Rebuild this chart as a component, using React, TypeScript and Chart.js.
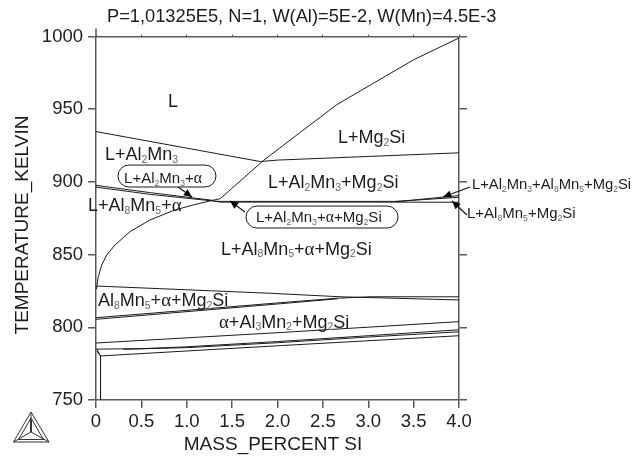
import React, { useEffect, useRef } from "react";
import { Chart, registerables } from "chart.js";

Chart.register(...registerables);

type P = [number, number];

const xTicks = [0, 0.5, 1, 1.5, 2, 2.5, 3, 3.5, 4];
const yTicks = [750, 800, 850, 900, 950, 1000];

const liquidusAl2Mn3: P[] = [[0, 934.6], [1.81, 914], [2.0, 915], [3.0, 917.5], [4.0, 920]];
const liquidusMg2Si: P[] = [[0, 826.5], [0.008, 827.9], [0.025, 834.8], [0.063, 842.8], [0.118, 849.7], [0.209, 856.6], [0.375, 865.8], [0.595, 873.8], [0.848, 880.2], [1.036, 883.6], [1.256, 886.9], [1.37, 888.5], [1.85, 915], [2.65, 953], [3.5, 984], [4.0, 999]];
const alphaUpper: P[] = [[0, 897.6], [0.6, 892.6], [1.3, 887.2]];
const alphaLower: P[] = [[0, 896.4], [0.6, 891.4], [1.35, 886.5]];
const eutecticA: P[] = [[1.3, 886.6], [3.35, 886.6], [4.0, 890.6]];
const eutecticB: P[] = [[1.35, 886.1], [3.0, 886.1], [4.0, 886.0]];
const eutecticC: P[] = [[3.3, 886.6], [4.0, 889.4]];
const solvusTop: P[] = [[0, 828.4], [1.92, 823.4], [2.69, 821], [4.0, 818.8]];
const solvusRiseA: P[] = [[0, 806.6], [2.03, 816.9], [2.66, 820], [3.02, 821], [4.0, 821]];
const solvusRiseB: P[] = [[0, 805.5], [2.03, 816.2], [2.66, 819.6]];
const band789: P[] = [[0, 789.2], [2.03, 796.4], [4.0, 803.9]];
const band785A: P[] = [[0, 785], [0.5, 785.3], [1.0, 786.6], [2.0, 790.2], [3.0, 794.2], [4.0, 798.3]];
const band785B: P[] = [[0.3, 784.9], [1.0, 786], [2.0, 789.4], [3.0, 793.3], [4.0, 796.9]];
const band780: P[] = [[0.05, 780.3], [2.03, 787.4], [4.0, 794.2]];
const cornerA: P[] = [[0.01, 784.8], [0.05, 780.3]];
const cornerB: P[] = [[0.01, 783.6], [0.05, 780.3]];
const verticalA: P[] = [[0.05, 780.3], [0.05, 750]];

const boundaries = [liquidusAl2Mn3, liquidusMg2Si, alphaUpper, alphaLower, eutecticA, eutecticB, eutecticC, solvusTop, solvusRiseA, solvusRiseB, band789, band785A, band785B, band780, cornerA, cornerB, verticalA];

// [text, x, T, font px] : "_n" marks a subscript
const regionLabels: [string, number, number, number][] = [
  ["L", 0.793, 956.3, 18],
  ["L+Mg_2Si", 2.667, 930.9, 18],
  ["L+Al_2Mn_3", 0.099, 919.2, 18],
  ["L+Al_2Mn_3+α", 0.309, 902.7, 15],
  ["L+Al_8Mn_5+α", -0.088, 884.1, 18],
  ["L+Al_2Mn_3+Mg_2Si", 1.895, 900, 18],
  ["L+Al_2Mn_3+α+Mg_2Si", 1.763, 875.9, 15],
  ["L+Al_8Mn_5+α+Mg_2Si", 1.377, 854.5, 18],
  ["Al_8Mn_5+α+Mg_2Si", 0.022, 818.8, 18],
  ["α+Al_3Mn_2+Mg_2Si", 1.355, 804.3, 18],
  ["L+Al_2Mn_3+Al_8Mn_5+Mg_2Si", 4.143, 898.6, 14.8],
  ["L+Al_8Mn_5+Mg_2Si", 4.088, 878.6, 15],
];

// [x0, T0, x1, T1]
const pills: [number, number, number, number][] = [
  [0.242, 911.6, 1.322, 896.5],
  [1.653, 883.4, 3.328, 868.3],
];
const arrows: [number, number, number, number][] = [
  [0.904, 896.5, 1.058, 889.6],
  [1.642, 879.3, 1.477, 886.9],
  [4.121, 896.5, 3.824, 889.6],
  [4.088, 877.2, 3.923, 886.9],
];

const titleText = "P=1,01325E5, N=1, W(Al)=5E-2, W(Mn)=4.5E-3";
const xTitle = "MASS_PERCENT SI";
const yTitle = "TEMPERATURE_KELVIN";

const SANS = '"Liberation Sans", Arial, sans-serif';
const AXIS = "#5a5a5a";
const INK = "#1c1c1c";

function richText(ctx: CanvasRenderingContext2D, s: string, x: number, cy: number, size: number) {
  ctx.textBaseline = "alphabetic";
  ctx.textAlign = "left";
  ctx.fillStyle = INK;
  const base = cy + size * 0.36;
  let px = x;
  let i = 0;
  while (i < s.length) {
    const ch = s[i];
    if (ch === "_") {
      ctx.font = `${size * 0.58}px ${SANS}`;
      ctx.fillStyle = "#666";
      ctx.fillText(s[i + 1], px, base + size * 0.16);
      px += ctx.measureText(s[i + 1]).width;
      ctx.fillStyle = INK;
      i += 2;
      continue;
    }
    if (ch === "α") {
      ctx.font = `${size * 1.05}px "Liberation Serif", serif`;
    } else {
      ctx.font = `${size}px ${SANS}`;
    }
    ctx.fillText(ch, px, base);
    px += ctx.measureText(ch).width;
    i++;
  }
}

const overlay = {
  id: "overlay",
  afterDraw(chart: any) {
    const { ctx, scales } = chart;
    const X = (v: number) => scales.x.getPixelForValue(v);
    const Y = (v: number) => scales.y.getPixelForValue(v);
    ctx.save();

    // stub of the y axis above the frame
    ctx.strokeStyle = AXIS;
    ctx.lineWidth = 1.5;
    ctx.beginPath();
    ctx.moveTo(X(0), Y(1000));
    ctx.lineTo(X(0), Y(1000) - 8);
    ctx.stroke();

    for (const [x0, t0, x1, t1] of pills) {
      const l = X(x0), r = X(x1), t = Y(t0), b = Y(t1);
      ctx.beginPath();
      ctx.roundRect(l, t, r - l, b - t, (b - t) / 2);
      ctx.fillStyle = "#fff";
      ctx.fill();
      ctx.strokeStyle = INK;
      ctx.lineWidth = 1;
      ctx.stroke();
    }

    for (const [x0, t0, x1, t1] of arrows) {
      const ax = X(x0), ay = Y(t0), bx = X(x1), by = Y(t1);
      const ang = Math.atan2(by - ay, bx - ax);
      ctx.strokeStyle = INK;
      ctx.lineWidth = 1.2;
      ctx.beginPath();
      ctx.moveTo(ax, ay);
      ctx.lineTo(bx, by);
      ctx.stroke();
      ctx.fillStyle = "#000";
      ctx.beginPath();
      ctx.moveTo(bx, by);
      ctx.lineTo(bx - 9 * Math.cos(ang - 0.42), by - 9 * Math.sin(ang - 0.42));
      ctx.lineTo(bx - 9 * Math.cos(ang + 0.42), by - 9 * Math.sin(ang + 0.42));
      ctx.closePath();
      ctx.fill();
    }

    for (const [s, x, t, size] of regionLabels) richText(ctx, s, X(x), Y(t), size);

    ctx.fillStyle = INK;
    ctx.textBaseline = "middle";
    ctx.textAlign = "left";
    ctx.font = `18.25px ${SANS}`;
    ctx.fillText(titleText, 107, 17);
    ctx.textAlign = "center";
    ctx.font = `19px ${SANS}`;
    ctx.fillText(xTitle, 273, 445);
    ctx.translate(22.5, 225);
    ctx.rotate(-Math.PI / 2);
    ctx.fillText(yTitle, 0, 0);
    ctx.setTransform(1, 0, 0, 1, 0, 0);

    // Thermo-Calc logo
    const A: P = [31, 412], B: P = [13.5, 442], C: P = [49, 442], O: P = [31, 432];
    ctx.strokeStyle = "#333";
    ctx.lineWidth = 1;
    ctx.beginPath();
    ctx.moveTo(A[0], A[1]); ctx.lineTo(B[0], B[1]); ctx.lineTo(C[0], C[1]); ctx.closePath();
    ctx.moveTo(31, 418); ctx.lineTo(18.5, 439.5); ctx.lineTo(43.5, 439.5); ctx.closePath();
    ctx.moveTo(O[0], O[1]); ctx.lineTo(A[0], A[1]);
    ctx.moveTo(O[0], O[1]); ctx.lineTo(B[0], B[1]);
    ctx.moveTo(O[0], O[1]); ctx.lineTo(C[0], C[1]);
    ctx.stroke();
    ctx.lineWidth = 2;
    ctx.beginPath();
    ctx.moveTo(31, 420); ctx.lineTo(O[0], O[1]);
    ctx.stroke();
    ctx.restore();
  },
};

const fixedSize = (key: "width" | "height", v: number) => (scale: any) => {
  scale[key] = v;
};

export default function App() {
  const ref = useRef<HTMLCanvasElement>(null);
  useEffect(() => {
    const chart = new Chart(ref.current as HTMLCanvasElement, {
      type: "scatter",
      data: {
        datasets: boundaries.map((pts) => ({
          data: pts.map(([x, y]) => ({ x, y })),
          showLine: true,
          pointRadius: 0,
          borderColor: INK,
          borderWidth: 1,
          tension: 0,
        })),
      },
      options: {
        responsive: false,
        animation: false,
        layout: { padding: 0 },
        plugins: { legend: { display: false }, title: { display: false }, tooltip: { enabled: false } },
        scales: {
          x: {
            type: "linear",
            position: "bottom",
            min: 0,
            max: 4,
            afterFit: fixedSize("height", 56),
            afterBuildTicks: (s: any) => { s.ticks = xTicks.map((value) => ({ value })); },
            border: { color: AXIS, width: 1.5 },
            grid: { drawOnChartArea: false, color: AXIS, tickLength: 8, lineWidth: 1.5 },
            ticks: {
              color: "#222",
              font: { family: SANS, size: 18.5 },
              padding: 3,
              maxRotation: 0,
              autoSkip: false,
              callback: (v: any) => (v === 0 ? "0" : Number(v).toFixed(1)),
            },
          },
          xTop: {
            type: "linear",
            position: "top",
            min: 0,
            max: 4,
            afterFit: fixedSize("height", 36.5),
            afterBuildTicks: (s: any) => { s.ticks = xTicks.map((value) => ({ value })); },
            border: { color: AXIS, width: 1.5 },
            grid: { drawOnChartArea: false, color: AXIS, tickLength: 2, lineWidth: 1 },
            ticks: { display: false },
          },
          y: {
            type: "linear",
            position: "left",
            min: 750,
            max: 1000,
            afterFit: fixedSize("width", 96),
            afterBuildTicks: (s: any) => { s.ticks = yTicks.map((value) => ({ value })); },
            border: { color: AXIS, width: 1.5 },
            grid: { drawOnChartArea: false, color: AXIS, tickLength: 8, lineWidth: 1.5 },
            ticks: {
              color: "#222",
              font: { family: SANS, size: 18.5 },
              padding: 5,
              autoSkip: false,
              callback: (v: any) => String(v),
            },
          },
          yRight: {
            type: "linear",
            position: "right",
            min: 750,
            max: 1000,
            afterFit: fixedSize("width", 185),
            afterBuildTicks: (s: any) => { s.ticks = yTicks.map((value) => ({ value })); },
            border: { color: AXIS, width: 1.5 },
            grid: { drawOnChartArea: false, color: AXIS, tickLength: 8, lineWidth: 1.5 },
            ticks: { display: false },
          },
        },
      } as any,
      plugins: [overlay],
    });
    return () => chart.destroy();
  }, []);
  return (
    <div style={{ position: "fixed", left: 0, top: 0, width: 644, height: 456, background: "#fff" }}>
      <canvas ref={ref} width={644} height={456} style={{ display: "block" }} />
    </div>
  );
}
